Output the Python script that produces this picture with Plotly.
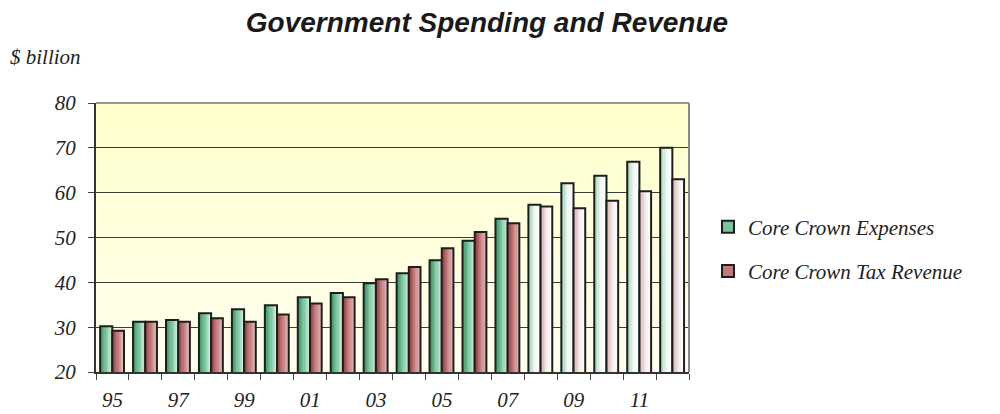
import plotly.graph_objects as go

# Fiscal years (two-digit labels) and values in $ billion
years = ["95", "96", "97", "98", "99", "00", "01", "02", "03", "04",
         "05", "06", "07", "08", "09", "10", "11", "12"]
expenses = [30.2, 31.2, 31.6, 33.1, 34.0, 34.9, 36.7, 37.6, 39.8, 42.0,
            44.9, 49.3, 54.2, 57.3, 62.1, 63.8, 66.9, 70.0]
tax_revenue = [29.2, 31.2, 31.2, 32.0, 31.2, 32.8, 35.3, 36.7, 40.7, 43.4,
               47.6, 51.2, 53.2, 56.9, 56.5, 58.2, 60.3, 63.0]
# Forecast years are drawn with pale fills
forecast = [False] * 13 + [True] * 5
tick_text = [y if i % 2 == 0 else "" for i, y in enumerate(years)]
y_ticks = [20, 30, 40, 50, 60, 70, 80]

SERIF = "Liberation Serif"
SANS = "Liberation Sans"


def hex_to_rgb(h):
    h = h.lstrip("#")
    return tuple(int(h[i:i + 2], 16) for i in (0, 2, 4))


def mix(c1, c2, t):
    a, b = hex_to_rgb(c1), hex_to_rgb(c2)
    return "rgb(%d,%d,%d)" % tuple(round(a[k] + (b[k] - a[k]) * t) for k in range(3))


def ramp(stops, t):
    # piecewise-linear colour ramp over evenly spaced stops
    n = len(stops) - 1
    k = min(int(t * n), n - 1)
    return mix(stops[k], stops[k + 1], t * n - k)


series = [
    dict(name="Core Crown Expenses", values=expenses, offset=-0.375, width=0.37,
         actual=["#2f8f5c", "#7cc39b", "#d3eedf"],
         pale=["#8cc8a6", "#eef7f2", "#ffffff"],
         legend="#7cc39b"),
    dict(name="Core Crown Tax Revenue", values=tax_revenue, offset=-0.005, width=0.355,
         actual=["#8e3434", "#c07a7a", "#e8bcbc"],
         pale=["#caa0a0", "#f4e9e9", "#ffffff"],
         legend="#c07a7a"),
]

N_STRIPS = 10
fig = go.Figure()

for s in series:
    strip_w = s["width"] / N_STRIPS
    for i in range(N_STRIPS):
        t = (i + 0.5) / N_STRIPS
        colors = [ramp(s["pale"] if f else s["actual"], t) for f in forecast]
        fig.add_trace(go.Bar(
            x=years, y=s["values"],
            offset=s["offset"] + i * strip_w, width=strip_w * 1.25 if i < N_STRIPS - 1 else strip_w,
            marker=dict(color=colors, line=dict(width=0)),
            showlegend=False, hoverinfo="skip",
        ))
    # dark outline on top of the gradient strips
    fig.add_trace(go.Bar(
        x=years, y=s["values"], offset=s["offset"], width=s["width"],
        marker=dict(color="rgba(0,0,0,0)", line=dict(color="#1e1e1e", width=2)),
        showlegend=False, name=s["name"],
    ))

# legend-only entries
for g, s in enumerate(series):
    fig.add_trace(go.Bar(
        x=[years[0]], y=[None], name="<i>%s</i>" % s["name"], legendgroup="g%d" % g,
        marker=dict(color=s["legend"], line=dict(color="#1e1e1e", width=2)),
    ))

# soft yellow plot background, lighter toward the bottom
bands = 12
shapes = []
for k in range(bands):
    shapes.append(dict(
        type="rect", xref="x domain", yref="y domain",
        x0=0, x1=1, y0=k / bands, y1=(k + 1) / bands + 0.002,
        fillcolor=mix("#fffff0", "#ffffcc", (k + 0.5) / bands),
        line=dict(width=0), layer="below",
    ))
# top and right frame
shapes.append(dict(type="line", xref="x domain", yref="y domain", x0=0, x1=1, y0=1, y1=1,
                   line=dict(color="#9a9a88", width=2)))
shapes.append(dict(type="line", xref="x domain", yref="y domain", x0=1, x1=1, y0=0, y1=1,
                   line=dict(color="#8a8a8a", width=2)))

fig.update_layout(
    width=1000, height=414,
    margin=dict(l=96, r=311, t=103, b=42),
    paper_bgcolor="white",
    plot_bgcolor="rgba(0,0,0,0)",
    barmode="overlay",
    shapes=shapes,
    title=dict(text="<b><i>Government Spending and Revenue</i></b>",
               x=0.487, xanchor="center", y=0.947, yanchor="middle",
               font=dict(family=SANS, size=28, color="#1a1a1a")),
    annotations=[dict(text="<i>$ billion</i>", xref="paper", yref="paper",
                      x=-0.149, y=1.17, xanchor="left", yanchor="middle",
                      showarrow=False, font=dict(family=SERIF, size=21, color="#222"))],
    legend=dict(x=1.032, y=0.457, xanchor="left", yanchor="middle",
                font=dict(family=SERIF, size=21, color="#222"),
                tracegroupgap=14, bgcolor="rgba(0,0,0,0)"),
    font=dict(family=SERIF, color="#222"),
)

fig.update_xaxes(
    type="category", categoryorder="array", categoryarray=years,
    tickvals=years, ticktext=["<i>%s</i>" % t if t else "" for t in tick_text],
    tickson="boundaries", ticks="outside", ticklen=6, tickcolor="#444", tickwidth=1,
    showline=True, linecolor="#333", linewidth=2,
    showgrid=False, ticklabelstandoff=8, automargin=False,
    tickfont=dict(family=SERIF, size=21, color="#222"),
    range=[-0.5, len(years) - 0.5],
)
fig.update_yaxes(
    range=[20, 80], tickvals=y_ticks,
    ticktext=["<i>%d</i>" % v for v in y_ticks],
    ticks="outside", ticklen=6, tickcolor="#444", tickwidth=1,
    showline=True, linecolor="#333", linewidth=2,
    showgrid=True, gridcolor="#3c3c3c", gridwidth=1,
    ticklabelstandoff=8, automargin=False,
    tickfont=dict(family=SERIF, size=21, color="#222"),
    zeroline=False,
)

fig.write_html("out.html")
